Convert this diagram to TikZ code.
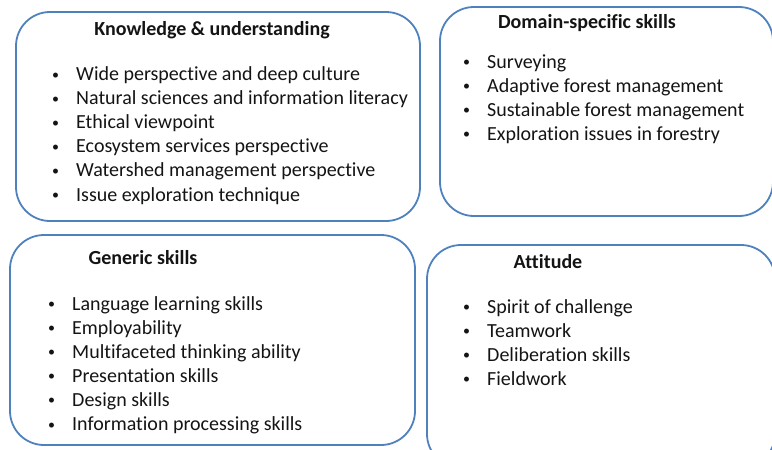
\documentclass[tikz,border=0pt]{standalone}
\usepackage{fontspec}
\setmainfont[Ligatures=NoCommon]{Carlito}
\usepackage{xcolor}
\usetikzlibrary{positioning}

\definecolor{boxblue}{RGB}{79,129,189}
\definecolor{txtgray}{RGB}{20,20,20}

% small bullet in front of each entry
\newcommand{\itembul}{\makebox[25pt][l]{\hspace{1pt}\raisebox{1.5pt}{\fontsize{14}{14}\selectfont\textbullet}}}

\begin{document}
\begin{tikzpicture}[
    x=1pt, y=-1pt,
    area/.style={draw=boxblue, line width=1.8pt, rounded corners=34pt},
    head/.style={font=\fontsize{20}{24}\selectfont\bfseries, text=txtgray, inner sep=0pt, anchor=base},
    item/.style={font=\fontsize{20}{24}\selectfont, text=txtgray, inner sep=0pt, text height=16pt, text depth=7.7pt, anchor=base west}
]
  \useasboundingbox (0,0) rectangle (772,450);

  % Four rounded areas (the right ones run off the page)
  \begin{scope}
    \clip (0,0) rectangle (772,450);
    \draw[area] (16,12) rectangle (420,221);
    \draw[area] (440,7) rectangle (773,216);
    \draw[area] (10,235) rectangle (415,445);
    \draw[area] (427,245) rectangle (775,468);
  \end{scope}

  % Knowledge & understanding
  \node[head] (kTitle) at (212,35) {Knowledge \& understanding};
  \node[item] (k1) at (51,80.5) {\itembul Wide perspective and deep culture};
  \node[item, below=0pt of k1.south west, anchor=north west] (k2) {\itembul Natural sciences and information literacy};
  \node[item, below=0pt of k2.south west, anchor=north west] (k3) {\itembul Ethical viewpoint};
  \node[item, below=0pt of k3.south west, anchor=north west] (k4) {\itembul Ecosystem services perspective};
  \node[item, below=0pt of k4.south west, anchor=north west] (k5) {\itembul Watershed management perspective};
  \node[item, below=0pt of k5.south west, anchor=north west] (k6) {\itembul Issue exploration technique};

  % Domain-specific skills
  \node[head] (dTitle) at (587,28) {Domain-specific skills};
  \node[item] (d1) at (462,68) {\itembul Surveying};
  \node[item, below=0pt of d1.south west, anchor=north west] (d2) {\itembul Adaptive forest management};
  \node[item, below=0pt of d2.south west, anchor=north west] (d3) {\itembul Sustainable forest management};
  \node[item, below=0pt of d3.south west, anchor=north west] (d4) {\itembul Exploration issues in forestry};

  % Generic skills
  \node[head] (gTitle) at (143,264) {Generic skills};
  \node[item] (g1) at (47,310) {\itembul Language learning skills};
  \node[item, below=0pt of g1.south west, anchor=north west] (g2) {\itembul Employability};
  \node[item, below=0pt of g2.south west, anchor=north west] (g3) {\itembul Multifaceted thinking ability};
  \node[item, below=0pt of g3.south west, anchor=north west] (g4) {\itembul Presentation skills};
  \node[item, below=0pt of g4.south west, anchor=north west] (g5) {\itembul Design skills};
  \node[item, below=0pt of g5.south west, anchor=north west] (g6) {\itembul Information processing skills};

  % Attitude
  \node[head] (aTitle) at (548,268) {Attitude};
  \node[item] (a1) at (462,313) {\itembul Spirit of challenge};
  \node[item, below=0pt of a1.south west, anchor=north west] (a2) {\itembul Teamwork};
  \node[item, below=0pt of a2.south west, anchor=north west] (a3) {\itembul Deliberation skills};
  \node[item, below=0pt of a3.south west, anchor=north west] (a4) {\itembul Fieldwork};

\end{tikzpicture}
\end{document}
